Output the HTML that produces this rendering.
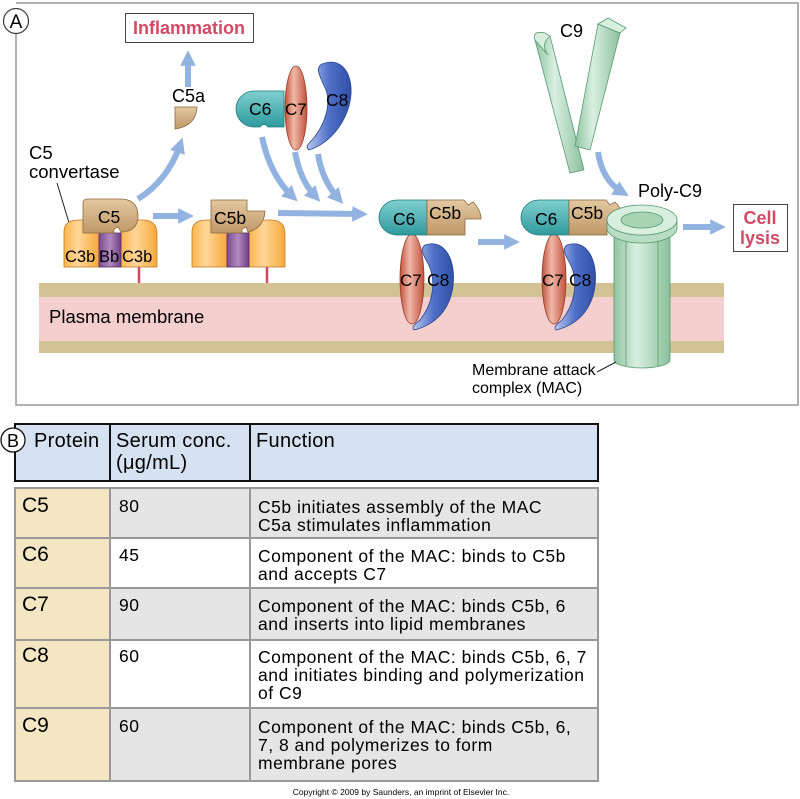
<!DOCTYPE html>
<html><head><meta charset="utf-8"><style>
html,body{margin:0;padding:0;background:#fff;}
svg{display:block;font-family:"Liberation Sans",sans-serif;}
</style></head><body>
<svg width="800" height="799" viewBox="0 0 800 799">
<defs>
<marker id="ah" viewBox="0 0 10 10" refX="5" refY="5" markerWidth="2.6" markerHeight="2.6" orient="auto-start-reverse"><path d="M0,0 L10,5 L0,10 Z" fill="#92b2e0"/></marker>
<linearGradient id="org" x1="0" x2="1"><stop offset="0" stop-color="#fbb54f"/><stop offset="0.4" stop-color="#fed79a"/><stop offset="1" stop-color="#f7a83a"/></linearGradient>
<linearGradient id="pur" x1="0" x2="1"><stop offset="0" stop-color="#7a4a8c"/><stop offset="0.5" stop-color="#b18ac0"/><stop offset="1" stop-color="#6e3f82"/></linearGradient>
<linearGradient id="tan" x1="0" y1="0" x2="0" y2="1"><stop offset="0" stop-color="#e3c8a0"/><stop offset="1" stop-color="#c09868"/></linearGradient>
<linearGradient id="teal" x1="0" y1="0" x2="0" y2="1"><stop offset="0" stop-color="#7fcfcf"/><stop offset="1" stop-color="#2f9b9e"/></linearGradient>
<linearGradient id="red" x1="0" x2="1"><stop offset="0" stop-color="#c0523c"/><stop offset="0.4" stop-color="#f0b8a8"/><stop offset="1" stop-color="#c0523c"/></linearGradient>
<linearGradient id="blu" x1="0" x2="1"><stop offset="0" stop-color="#b8c8ee"/><stop offset="0.5" stop-color="#5070c8"/><stop offset="1" stop-color="#3050a8"/></linearGradient>
<linearGradient id="grn" x1="0" x2="1"><stop offset="0" stop-color="#8fc4a0"/><stop offset="0.4" stop-color="#d8efe0"/><stop offset="1" stop-color="#8cc09c"/></linearGradient>
</defs>

<path d="M16,21 V405 H798 V3 H16" fill="none" stroke="#999" stroke-width="1.5"/>
<circle cx="16" cy="21" r="12.5" fill="#fff" stroke="#444" stroke-width="1.3"/>
<text x="16" y="28" font-size="19" text-anchor="middle">A</text>

<g>
<rect x="39" y="283" width="685" height="70" fill="#d3c293"/>
<rect x="39" y="297" width="685" height="44" fill="#f4cfce"/>
<text x="49" y="323" font-size="18.5">Plasma membrane</text>
</g>

<rect x="125.5" y="13.5" width="128" height="29" fill="#fff" stroke="#444"/>
<text x="189" y="34" font-size="18" font-weight="bold" fill="#d24a63" text-anchor="middle">Inflammation</text>

<g stroke="#92b2e0" stroke-width="6" fill="none" marker-end="url(#ah)">
<line x1="188" y1="87" x2="188" y2="58"/>
<path d="M138,199 Q168,180 180,145"/>
<line x1="153" y1="216" x2="186" y2="216"/>
<line x1="278" y1="213" x2="360" y2="214"/>
<path d="M262,137 Q270,175 292,196"/>
<path d="M295,152 Q300,180 315,196"/>
<path d="M318,154 Q322,180 338,198"/>
<line x1="478" y1="242" x2="512" y2="242"/>
<path d="M598,152 Q602,180 622,192"/>
<line x1="683" y1="227" x2="718" y2="227"/>
</g>

<path d="M175,107 H197 Q196,126 175,129 Z" fill="url(#tan)" stroke="#8a6a40" stroke-width="0.8"/>
<text x="172" y="102" font-size="18">C5a</text>

<text x="29" y="159" font-size="18.5">C5</text>
<text x="29" y="178" font-size="18.5">convertase</text>
<line x1="57" y1="183" x2="70" y2="226" stroke="#222" stroke-width="1"/>

<g id="conv">
<path d="M64,267 V232 Q64,220 78,220 H99 V267 Z" fill="url(#org)" stroke="#c07a20" stroke-width="0.8"/>
<path d="M121,267 V220 H143 Q157,220 157,234 V267 Z" fill="url(#org)" stroke="#c07a20" stroke-width="0.8"/>
<rect x="99" y="233" width="22" height="34" fill="url(#pur)" stroke="#5a2f6a" stroke-width="0.8"/>
<line x1="139" y1="267" x2="139" y2="283" stroke="#d04a60" stroke-width="2.5"/>
</g>
<path d="M83,233 V203 Q83,199 88,199 H122 Q138,200 138,216 Q138,231 122,232 H121 L118,227 L114,229 V233 Z" fill="url(#tan)" stroke="#8a6a40" stroke-width="0.8"/>
<text x="109" y="223" font-size="17.5" text-anchor="middle">C5</text>
<text x="65" y="262" font-size="16.5">C3b</text>
<text x="99" y="262" font-size="16.5">Bb</text>
<text x="122" y="262" font-size="16.5">C3b</text>

<use href="#conv" transform="translate(128,0)"/>
<path d="M211,233 V200 H247 V211 H265 Q264,228 248,232 L246,227 L242,229 V233 Z" fill="url(#tan)" stroke="#8a6a40" stroke-width="0.8"/>
<text x="214" y="224" font-size="17.5">C5b</text>

<g>
<path d="M254,91 H284 V127 H268 Q264,122 260,127 H254 A18,18 0 0 1 254,91 Z" fill="url(#teal)" stroke="#1f7a7e" stroke-width="0.8"/>
<ellipse cx="296" cy="108" rx="11" ry="42" fill="url(#red)" stroke="#9a3a2a" stroke-width="0.8"/>
<path d="M322,64 C345,55 356,80 349,106 C342,130 325,145 309,150 C305,147 308,144 312,140 C325,125 331,105 326,90 C321,78 314,68 322,64 Z" fill="url(#blu)" stroke="#2a4690" stroke-width="0.8"/>
<text x="249" y="115" font-size="17.5">C6</text>
<text x="285" y="115" font-size="17">C7</text>
<text x="326" y="106" font-size="17.5">C8</text>
</g>

<g id="c5b678">
<ellipse cx="412" cy="279" rx="12" ry="45" fill="url(#red)" stroke="#9a3a2a" stroke-width="0.8"/>
<path d="M425,245 C446,238 456,262 453,286 C450,310 435,325 414,330 C411,327 415,324 420,320 C432,305 436,285 430,268 C426,258 418,250 425,245 Z" fill="url(#blu)" stroke="#2a4690" stroke-width="0.8"/>
<path d="M397,200 H427 V235 H397 A18,17.5 0 0 1 397,200 Z" fill="url(#teal)" stroke="#1f7a7e" stroke-width="0.8"/>
<path d="M427,235 V200 H464 L468,205 L473,202 Q481,210 481,219 H465 V235 Z" fill="url(#tan)" stroke="#8a6a40" stroke-width="0.8"/>
<text x="393" y="225" font-size="17.5">C6</text>
<text x="429" y="219" font-size="17.5">C5b</text>
<text x="400" y="286" font-size="17">C7</text>
<text x="427" y="286" font-size="17.5">C8</text>
</g>
<use href="#c5b678" transform="translate(142,0)"/>

<g>
<polygon points="535,40 550,36 584,170 570,173" fill="url(#grn)" stroke="#5a9a70" stroke-width="0.8"/>
<path d="M535,40 Q532,30 545,33 L550,36 Q540,45 548,55 Z" fill="#d8efe0" stroke="#5a9a70" stroke-width="0.8"/>
<polygon points="598,24 620,33 590,150 575,146" fill="url(#grn)" stroke="#5a9a70" stroke-width="0.8"/>
<polygon points="598,24 608,18 626,28 620,33" fill="#d8efe0" stroke="#5a9a70" stroke-width="0.8"/>
<text x="560" y="37" font-size="18">C9</text>
</g>

<g>
<path d="M614,225 V360 A28,8 0 0 0 670,360 V225 Z" fill="url(#grn)" stroke="#5a9a70" stroke-width="0.8"/>
<line x1="626" y1="232" x2="626" y2="366" stroke="#5a9a70" stroke-width="0.8"/>
<line x1="658" y1="232" x2="658" y2="366" stroke="#5a9a70" stroke-width="0.8"/>
<path d="M607,220 A35,15 0 0 0 677,220 V228 A35,15 0 0 1 607,228 Z" fill="#b8dcc4" stroke="#5a9a70" stroke-width="0.8"/>
<ellipse cx="642" cy="220" rx="35" ry="15" fill="#d8efe0" stroke="#5a9a70" stroke-width="0.8"/>
<ellipse cx="642" cy="220" rx="21" ry="8" fill="#a8d4b6" stroke="#5a9a70" stroke-width="0.8"/>
<text x="638" y="197" font-size="18">Poly-C9</text>
</g>

<rect x="733.5" y="204.5" width="54" height="47" fill="#fff" stroke="#444"/>
<text x="760" y="224" font-size="18" font-weight="bold" fill="#d24a63" text-anchor="middle">Cell</text>
<text x="760" y="244" font-size="18" font-weight="bold" fill="#d24a63" text-anchor="middle">lysis</text>

<line x1="597" y1="372" x2="616" y2="362" stroke="#222" stroke-width="1"/>
<text x="472" y="375" font-size="16">Membrane attack</text>
<text x="472" y="393" font-size="16">complex (MAC)</text>

<g>
<rect x="15" y="424" width="583" height="57" fill="#d6e2f2" stroke="#111" stroke-width="2"/>
<line x1="110" y1="424" x2="110" y2="481" stroke="#111" stroke-width="2"/>
<line x1="250" y1="424" x2="250" y2="481" stroke="#111" stroke-width="2"/>
<circle cx="13" cy="440" r="12" fill="#fff" stroke="#111" stroke-width="1.3"/>
<text x="13" y="447" font-size="18" text-anchor="middle">B</text>
<g font-size="20" letter-spacing="0.3">
<text x="34" y="447">Protein</text>
<text x="116" y="447">Serum conc.</text>
<text x="116" y="469">(μg/mL)</text>
<text x="256" y="447">Function</text>
</g>

<g stroke="#999" stroke-width="2">
<rect x="15" y="488" width="95" height="293" fill="#f4e5c3"/>
<rect x="110" y="488" width="488" height="50" fill="#e5e5e5"/>
<rect x="110" y="538" width="488" height="50" fill="#fff"/>
<rect x="110" y="588" width="488" height="52" fill="#e5e5e5"/>
<rect x="110" y="640" width="488" height="68" fill="#fff"/>
<rect x="110" y="708" width="488" height="73" fill="#e5e5e5"/>
<line x1="250" y1="488" x2="250" y2="781"/>
<line x1="15" y1="538" x2="110" y2="538"/>
<line x1="15" y1="588" x2="110" y2="588"/>
<line x1="15" y1="640" x2="110" y2="640"/>
<line x1="15" y1="708" x2="110" y2="708"/>
</g>
<g font-size="21"><text x="22" y="512">C5</text><text x="22" y="561">C6</text><text x="22" y="611">C7</text><text x="22" y="662">C8</text><text x="22" y="732">C9</text></g>
<g font-size="17.5" letter-spacing="0.5">
<text x="119" y="512">80</text><text x="119" y="561">45</text><text x="119" y="611">90</text><text x="119" y="662">60</text><text x="119" y="732">60</text>
<text x="258" y="513">C5b initiates assembly of the MAC</text>
<text x="258" y="531">C5a stimulates inflammation</text>
<text x="258" y="562">Component of the MAC: binds to C5b</text>
<text x="258" y="580">and accepts C7</text>
<text x="258" y="612">Component of the MAC: binds C5b, 6</text>
<text x="258" y="630">and inserts into lipid membranes</text>
<text x="258" y="663">Component of the MAC: binds C5b, 6, 7</text>
<text x="258" y="681">and initiates binding and polymerization</text>
<text x="258" y="699">of C9</text>
<text x="258" y="733">Component of the MAC: binds C5b, 6,</text>
<text x="258" y="751">7, 8 and polymerizes to form</text>
<text x="258" y="769">membrane pores</text>
</g>
</g>
<text x="401" y="795" font-size="8.5" text-anchor="middle">Copyright © 2009 by Saunders, an imprint of Elsevier Inc.</text>
</svg>
</body></html>
